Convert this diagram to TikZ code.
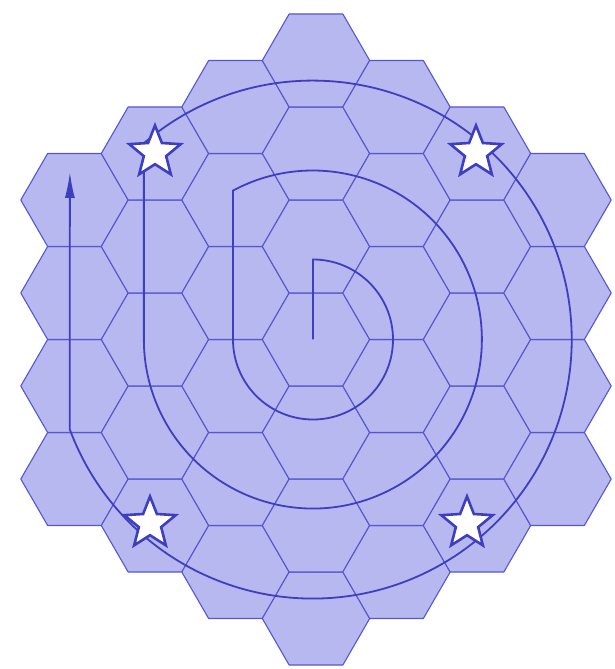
\documentclass[tikz,border=0pt]{standalone}
\usetikzlibrary{shapes.geometric,arrows.meta}
\definecolor{hexfill}{RGB}{184,184,240}
\definecolor{hexline}{RGB}{86,86,210}
\definecolor{routeblue}{RGB}{62,62,192}
\tikzstyle{hexcell}=[fill=hexfill, draw=hexline, line width=1.1pt, line join=round]
\tikzstyle{route}=[draw=routeblue, line width=1.8pt]
\tikzstyle{starcell}=[star, star points=5, star point ratio=2.3, minimum size=54pt, inner sep=0pt, draw=routeblue, line width=2.6pt, fill=white]

\begin{document}
\begin{tikzpicture}[x=1pt,y=1pt]
				\useasboundingbox (-316,-329.5) rectangle (298,339.5);
				% hex board, column by column
				\foreach \q/\n in {-3/4,-2/5,-1/6,0/7,1/6,2/5,3/4}
				  \foreach \k in {1,...,\n}
				    \draw[hexcell] ({80.5*\q},{93*(\k-(\n+1)/2)}) +(0:53.7) -- +(60:53.7) -- +(120:53.7) -- +(180:53.7) -- +(240:53.7) -- +(300:53.7) -- cycle;
				% spiral
				\coordinate (ctr) at (-3,0);
				\coordinate (arrowtip) at (-246.1,167.5);
				\draw[route, -{Latex[length=26pt,width=10pt]}] (ctr) -- ++(0,80)
				  arc[start angle=90, end angle=-180, radius=80] -- ++(0,148.9)
				  arc[start angle=118.2, end angle=-180, radius=169] -- ++(0,196.3)
				  arc[start angle=130.7, end angle=-159.8, radius=259] -- (arrowtip);
				% stars
				\node[starcell] (starNW) at (-161,187) {};
				\node[starcell] (starNE) at (160,187) {};
				\node[starcell] (starSW) at (-166,-184) {};
				\node[starcell] (starSE) at (151,-184) {};
			\end{tikzpicture}
\end{document}
